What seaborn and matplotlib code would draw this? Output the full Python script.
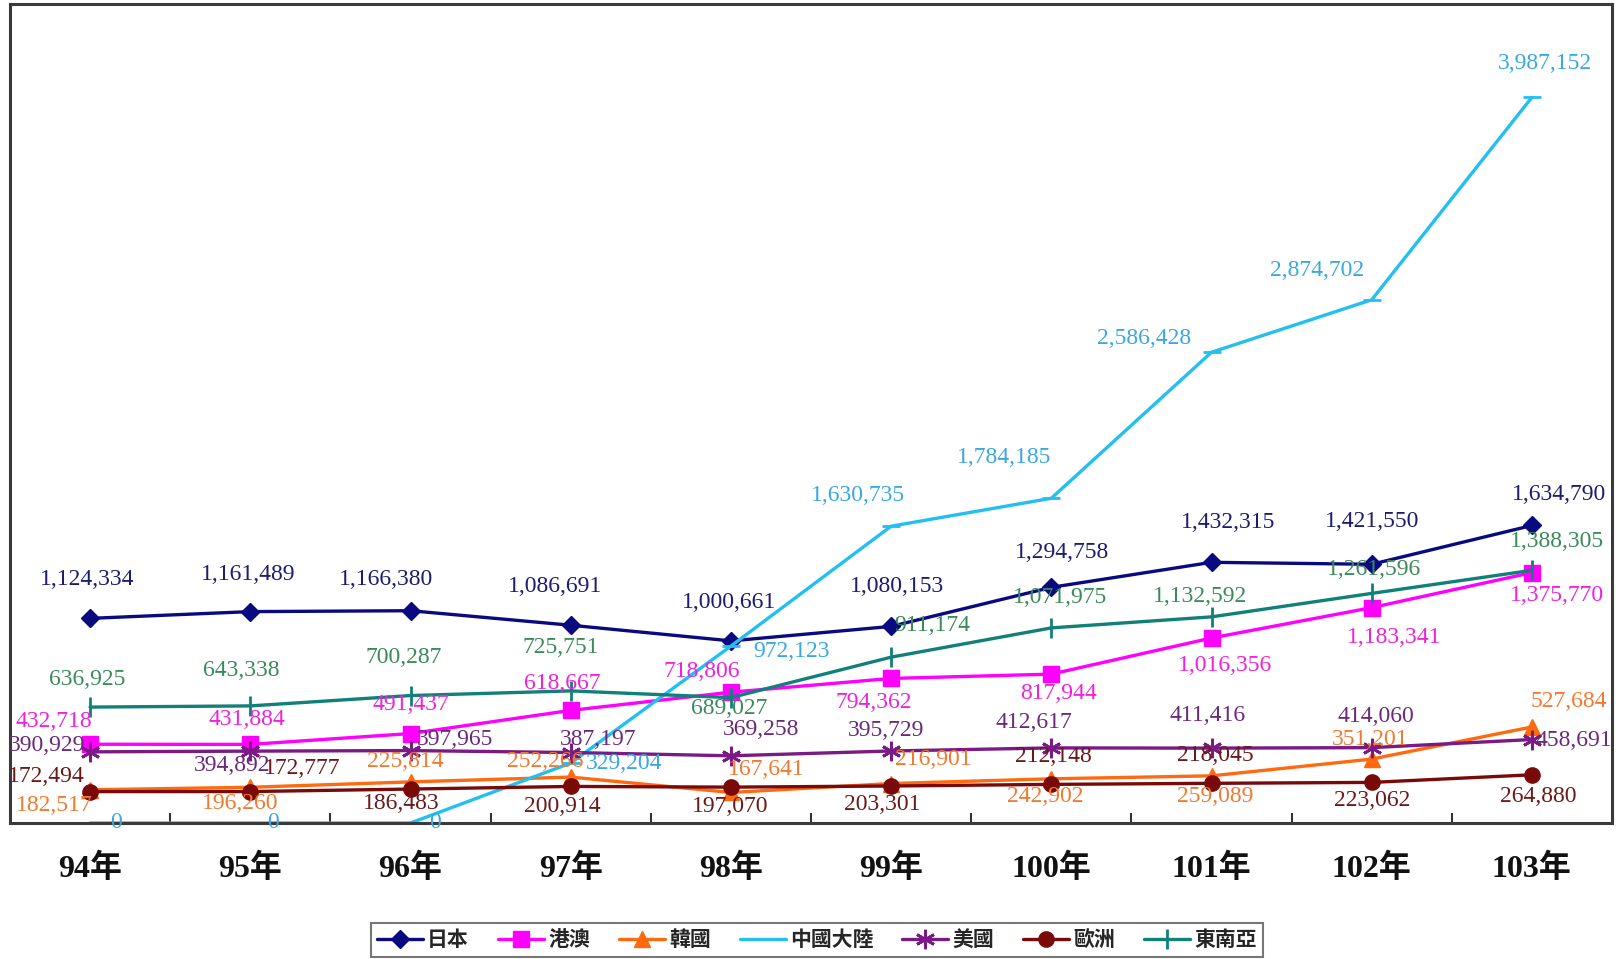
import numpy as np
import pandas as pd
import matplotlib
matplotlib.use("Agg")
import matplotlib.pyplot as plt
import seaborn as sns

years = ["94年", "95年", "96年", "97年", "98年", "99年", "100年", "101年", "102年", "103年"]
japan = [1124334, 1161489, 1166380, 1086691, 1000661, 1080153, 1294758, 1432315, 1421550, 1634790]
hkmacau = [432718, 431884, 491437, 618667, 718806, 794362, 817944, 1016356, 1183341, 1375770]
korea = [182517, 196260, 225814, 252266, 167641, 216901, 242902, 259089, 351201, 527684]
china = [0, 0, 0, 329204, 972123, 1630735, 1784185, 2586428, 2874702, 3987152]
usa = [390929, 394892, 397965, 387197, 369258, 395729, 412617, 411416, 414060, 458691]
europe = [172494, 172777, 186483, 200914, 197070, 203301, 212148, 218045, 223062, 264880]
sea = [636925, 643338, 700287, 725751, 689027, 911174, 1071975, 1132592, 1261596, 1388305]
names = ["日本", "港澳", "韓國", "中國大陸", "美國", "歐洲", "東南亞"]

series = [japan, hkmacau, korea, china, usa, europe, sea]

# styles
line_colors = ["#0a0a80", "#ff00ff", "#ff6a10", "#22bff0", "#7a1a85", "#7a0a0a", "#108078"]
label_colors = ["#1c1c70", "#ee22dd", "#f07a30", "#3aa8e0", "#6a2a7a", "#6a1a1a", "#3a8a5a"]
markers = ["D", "s", "^", "_", (6, 2, 0), "o", "|"]
msizes = [9, 12, 11, 13, 14, 11, 14]

# label offsets (px, measured on the reference)
offsets = [
    [(-3, -38), (-2, -36), (-24, -30), (-15, -38), (-2, -37), (6, -39), (10, -34), (16, -39), (0, -41), (26, -30)],
    [(-35, -22), (-3, -24), (0, -28), (-8, -26), (-28, -20), (-17, 23), (7, 19), (13, 27), (22, 29), (24, 22)],
    [(-35, 15), (-10, 16), (-5, -20), (-25, -15), (34, -22), (41, -23), (-6, 17), (4, 20), (-1, -19), (36, -25)],
    [(25, 0), (22, 0), (24, 0), (52, 0), (59, 5), (-32, -30), (-46, -40), (-65, -13), (-53, -28), (13, -33)],
    [(-42, -6), (-18, 14), (43, -11), (27, -13), (29, -25), (-5, -20), (-17, -25), (-4, -32), (4, -30), (41, 1)],
    [(-42, -15), (50, -22), (-9, 14), (-8, 19), (-1, 19), (-9, 18), (2, -27), (4, -27), (0, 18), (6, 21)],
    [(-3, -27), (-9, -34), (-7, -37), (-10, -42), (-2, 11), (40, -31), (8, -29), (-11, -20), (2, -23), (24, -28)],
]

sns.set_theme(style="white")
plt.rcParams["font.family"] = ["Liberation Serif", "Noto Sans CJK TC", "DejaVu Sans"]

fig = plt.figure(figsize=(16.19, 9.59), dpi=100)
ax = fig.add_axes([10 / 1619, (959 - 823) / 959, (1612 - 10) / 1619, (823 - 4) / 959])

x = np.arange(len(years))
for vals, name, lc, mk, ms in zip(series, names, line_colors, markers, msizes):
    df = pd.DataFrame({"x": x, "v": vals})
    filled = mk not in ("_", "|", "+", (6, 2, 0))
    kw = dict(markerfacecolor=lc, markeredgecolor=lc, markeredgewidth=1.0) if filled else \
        dict(markeredgecolor=lc, markeredgewidth=2.0)
    sns.lineplot(data=df, x="x", y="v", ax=ax, color=lc, marker=mk, markersize=ms,
                 linewidth=2.4, label=name, clip_on=False, **kw)

for vals, lcol, offs in zip(series, label_colors, offsets):
    for xi, v, (dx, dy) in zip(x, vals, offs):
        ax.annotate(f"{v:,}", (xi, v), xytext=(dx * 0.743, -dy * 0.743),
                    textcoords="offset points", ha="center", va="center",
                    fontsize=17, color=lcol, zorder=5)

ax.set_xlim(-0.5, len(years) - 0.5)
ax.set_ylim(0, 4.5e6)
ax.set_yticks([])
ax.set_xticks(x)
ax.set_xticklabels(years, fontsize=23, fontweight="bold", color="#111111")
ax.set_xticks(np.arange(0.5, len(years) - 1, 1.0), minor=True)
ax.tick_params(axis="x", which="major", length=0, pad=22)
ax.tick_params(axis="x", which="minor", direction="in", length=7, width=1.5,
               color="#333333", bottom=True)
ax.set_xlabel("")
ax.set_ylabel("")
for s in ax.spines.values():
    s.set_visible(True)
    s.set_color("#3a3a3a")
    s.set_linewidth(2.2)

leg = ax.legend(loc="center", bbox_to_anchor=(817 / 1619, (959 - 940) / 959),
                bbox_transform=fig.transFigure, ncol=7, frameon=True, fancybox=False,
                prop={"family": ["Noto Sans CJK TC"], "size": 15, "weight": "bold"},
                handlelength=2.2, handletextpad=0.2, columnspacing=1.4, borderpad=0.3,
                edgecolor="#555555")
leg.get_frame().set_linewidth(1.5)

fig.savefig("out.png", dpi=100)
